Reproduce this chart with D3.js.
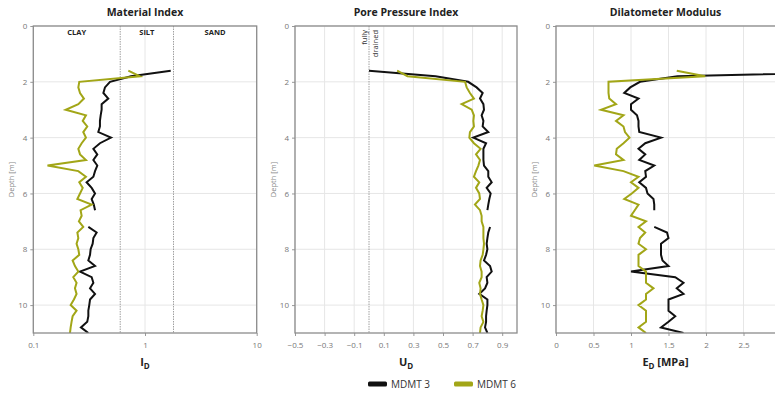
<!DOCTYPE html>
<html>
<head>
<meta charset="utf-8">
<script src="https://cdn.jsdelivr.net/npm/d3@7"></script>
<style>
  body { margin: 0; background: #fff; }
  svg { display: block; font-family: "Open Sans", sans-serif; }
</style>
</head>
<body>
<svg id="chart" width="775" height="394"></svg>
<script>
// depth of each reading [m]
var depth = [1.6, 1.8, 2.0, 2.2, 2.4, 2.6, 2.8, 3.0, 3.2, 3.4, 3.6, 3.8, 4.0, 4.2, 4.4, 4.6, 4.8, 5.0,
  5.2, 5.4, 5.6, 5.8, 6.0, 6.2, 6.4, 6.6, 6.8, 7.0, 7.2, 7.4, 7.6, 7.8, 8.0, 8.2, 8.4, 8.6, 8.8, 9.0,
  9.2, 9.4, 9.6, 9.8, 10.0, 10.2, 10.4, 10.6, 10.8, 11.0];

// material index I_D
var idMdmt3 = [1.70, 0.75, 0.486, 0.438, 0.424, 0.469, 0.409, 0.409, 0.401, 0.395, 0.395, 0.382, 0.496,
  0.395, 0.345, 0.374, 0.345, 0.374, 0.357, 0.345, 0.300, 0.333, 0.357, 0.333, 0.348, 0.357, null, null,
  0.311, 0.369, 0.345, 0.340, 0.326, 0.322, 0.311, 0.357, 0.262, 0.333, 0.345, 0.322, 0.357, 0.322,
  0.317, 0.311, 0.311, 0.304, 0.267, 0.311];
var idMdmt6 = [0.709, 0.90, 0.258, 0.253, 0.262, 0.284, 0.253, 0.195, 0.296, 0.277, 0.304, 0.280, 0.296,
  0.271, 0.253, 0.262, 0.296, 0.134, 0.253, 0.296, 0.258, 0.277, 0.262, 0.248, 0.333, 0.265, 0.271, 0.256,
  0.280, 0.248, 0.253, 0.244, 0.253, 0.258, 0.225, 0.236, 0.253, 0.228, 0.244, 0.236, 0.244, 0.231,
  0.216, 0.244, 0.225, 0.220, 0.216, 0.213];

// pore pressure index U_D
var udMdmt3 = [0.0, 0.45, 0.67, 0.727, 0.768, 0.750, 0.773, 0.777, 0.761, 0.773, 0.768, 0.806, 0.705,
  0.791, 0.773, 0.773, 0.773, 0.777, 0.806, 0.806, 0.829, 0.795, 0.822, 0.813, 0.806, 0.800, null, null,
  0.818, 0.806, 0.800, 0.795, 0.800, 0.791, 0.777, 0.818, 0.829, 0.795, 0.800, 0.784, 0.745, 0.800,
  0.800, 0.795, 0.791, 0.791, 0.784, 0.800];
var udMdmt6 = [0.19, 0.26, 0.649, 0.660, 0.682, 0.709, 0.626, 0.694, 0.709, 0.705, 0.709, 0.682, 0.678,
  0.709, 0.754, 0.723, 0.750, 0.739, 0.723, 0.709, 0.745, 0.723, 0.745, 0.750, 0.716, 0.750, 0.761, 0.761,
  0.773, 0.773, 0.773, 0.777, 0.773, 0.768, 0.754, 0.750, 0.761, 0.761, 0.745, 0.754, 0.750, 0.761,
  0.773, 0.768, 0.761, 0.773, 0.754, 0.750];

// dilatometer modulus E_D [MPa]
var edMdmt3 = [4.9, 1.62, 1.12, 0.99, 0.91, 1.10, 1.00, 1.00, 1.08, 1.10, 1.10, 1.11, 1.40,
  1.19, 1.10, 1.19, 1.11, 1.31, 1.19, 1.20, 1.11, 1.20, 1.22, 1.30, 1.31, 1.31, null, null,
  1.31, 1.48, 1.50, 1.40, 1.40, 1.40, 1.42, 1.50, 1.00, 1.59, 1.70, 1.61, 1.70, 1.50,
  1.50, 1.50, 1.59, 1.50, 1.40, 1.70];
var edMdmt6 = [1.61, 1.99, 0.70, 0.70, 0.70, 0.71, 0.80, 0.60, 0.90, 0.80, 0.90, 0.92, 0.98,
  0.90, 0.81, 0.80, 0.90, 0.51, 0.90, 1.10, 1.00, 1.10, 1.01, 0.91, 1.10, 1.05, 1.00, 1.20,
  1.10, 1.19, 1.12, 1.10, 1.20, 1.10, 1.10, 1.10, 1.20, 1.20, 1.20, 1.30, 1.20, 1.20,
  1.10, 1.20, 1.20, 1.20, 1.10, 1.20];

var seriesNames = ["MDMT 3", "MDMT 6"];
var seriesColors = ["#111111", "#a2a617"];

var depthTicks = [0, 2, 4, 6, 8, 10];
var idTicks = [0.1, 1, 10];
var udTicks = [-0.5, -0.3, -0.1, 0.1, 0.3, 0.5, 0.7, 0.9];
var edTicks = [0, 0.5, 1, 1.5, 2, 2.5];
var soilLimits = [0.6, 1.8];
var soilNames = ["CLAY", "SILT", "SAND"];

var svg = d3.select("#chart");
var plotTop = 26, plotBottom = 333;

var y = d3.scaleLinear().domain([0, 11]).range([plotTop, plotBottom]);

var panels = [
  {title: "Material Index", sym: "I", sub: "D", unit: "",
   x: d3.scaleLog().domain([0.1, 10]).range([33.3, 256.7]),
   ticks: idTicks, fmt: function(d) { return d3.format("~g")(d); },
   data: [idMdmt3, idMdmt6]},
  {title: "Pore Pressure Index", sym: "U", sub: "D", unit: "",
   x: d3.scaleLinear().domain([-0.5, 1.0]).range([295, 517]),
   ticks: udTicks, fmt: function(d) { return d3.format(".1f")(d); },
   data: [udMdmt3, udMdmt6]},
  {title: "Dilatometer Modulus", sym: "E", sub: "D", unit: " [MPa]",
   x: d3.scaleLinear().domain([0, 3]).range([556, 781]),
   ticks: edTicks, fmt: function(d) { return d3.format("~g")(d); },
   data: [edMdmt3, edMdmt6]}
];

panels.forEach(function(p, i) {
  var x = p.x;
  var x0 = x.range()[0], x1 = x.range()[1];
  var g = svg.append("g");

  // grid
  g.selectAll(".hg").data(depthTicks).enter().append("line")
    .attr("x1", x0).attr("x2", x1)
    .attr("y1", function(d) { return y(d); }).attr("y2", function(d) { return y(d); })
    .attr("stroke", "#e6e6e6").attr("stroke-width", 1);
  g.selectAll(".vg").data(p.ticks).enter().append("line")
    .attr("x1", function(d) { return x(d); }).attr("x2", function(d) { return x(d); })
    .attr("y1", plotTop).attr("y2", plotBottom)
    .attr("stroke", "#e6e6e6").attr("stroke-width", 1);

  // left axis
  var ya = g.append("g")
    .attr("transform", "translate(" + x0 + ",0)")
    .call(d3.axisLeft(y).tickValues(depthTicks).tickSize(3).tickPadding(3));
  ya.select(".domain").remove();
  ya.selectAll("line").attr("stroke", "#999");
  ya.selectAll("text").attr("fill", "#777").style("font-size", "8px")
    .style("font-family", "'Open Sans', sans-serif");

  // bottom axis
  var xa = g.append("g")
    .attr("transform", "translate(0," + plotBottom + ")")
    .call(d3.axisBottom(x).tickValues(p.ticks).tickFormat(p.fmt).tickSize(3).tickPadding(6));
  xa.select(".domain").remove();
  xa.selectAll("line").attr("stroke", "#999");
  xa.selectAll("text").attr("fill", "#777").style("font-size", "8px")
    .style("font-family", "'Open Sans', sans-serif");

  // extra annotations
  if (i === 0) {
    g.selectAll(".lim").data(soilLimits).enter().append("line")
      .attr("x1", function(d) { return x(d); }).attr("x2", function(d) { return x(d); })
      .attr("y1", plotTop).attr("y2", plotBottom)
      .attr("stroke", "#888").attr("stroke-width", 0.8).attr("stroke-dasharray", "1.5,1");
    var bounds = [0.1].concat(soilLimits).concat([10]);
    g.selectAll(".soil").data(soilNames).enter().append("text")
      .attr("x", function(d, k) { return (x(bounds[k]) + x(bounds[k + 1])) / 2; })
      .attr("y", 35)
      .attr("text-anchor", "middle")
      .style("font-size", "7.5px").style("font-weight", "bold").attr("fill", "#222")
      .text(function(d) { return d; });
  }
  if (i === 1) {
    g.append("line")
      .attr("x1", x(0)).attr("x2", x(0)).attr("y1", plotTop).attr("y2", plotBottom)
      .attr("stroke", "#888").attr("stroke-width", 0.8).attr("stroke-dasharray", "1.5,1");
    g.selectAll(".fd").data(["fully", "drained"]).enter().append("text")
      .attr("transform", function(d, k) {
        return "translate(" + (x(0) - 2 + k * 10.5) + ",30)rotate(-90)";
      })
      .attr("text-anchor", "end")
      .style("font-size", "7.5px").attr("fill", "#333")
      .text(function(d) { return d; });
  }

  // series
  var clipId = "clip" + i;
  svg.append("clipPath").attr("id", clipId).append("rect")
    .attr("x", x0).attr("y", plotTop).attr("width", x1 - x0).attr("height", plotBottom - plotTop);
  var lg = g.append("g").attr("clip-path", "url(#" + clipId + ")");
  p.data.forEach(function(vals, s) {
    var line = d3.line()
      .defined(function(d, k) { return vals[k] != null; })
      .x(function(d, k) { return x(vals[k]); })
      .y(function(d) { return y(d); });
    lg.append("path")
      .datum(depth)
      .attr("d", line)
      .attr("fill", "none")
      .attr("stroke", seriesColors[s])
      .attr("stroke-width", 2)
      .attr("stroke-linejoin", "miter");
  });

  // frame
  g.append("rect")
    .attr("x", x0).attr("y", plotTop).attr("width", x1 - x0).attr("height", plotBottom - plotTop)
    .attr("fill", "none").attr("stroke", "#8c8c8c").attr("stroke-width", 1.3);

  // titles
  var cx = (x0 + Math.min(x1, 775)) / 2;
  g.append("text")
    .attr("x", cx).attr("y", 16)
    .attr("text-anchor", "middle")
    .style("font-size", "10.5px").style("font-weight", "bold").attr("fill", "#222")
    .text(p.title);

  var at = g.append("text")
    .attr("x", cx).attr("y", 366)
    .attr("text-anchor", "middle")
    .style("font-size", "11px").style("font-weight", "bold").attr("fill", "#222");
  at.append("tspan").text(p.sym);
  at.append("tspan").attr("dy", 2.5).style("font-size", "8px").text(p.sub);
  at.append("tspan").attr("dy", -2.5).text(p.unit);

  g.append("text")
    .attr("transform", "translate(" + (x0 - 19) + "," + ((plotTop + plotBottom) / 2) + ")rotate(-90)")
    .attr("text-anchor", "middle")
    .style("font-size", "7.5px").attr("fill", "#888")
    .text("Depth [m]");
});

// legend
var legendX = [368, 454];
var leg = svg.append("g").selectAll("g").data(seriesNames).enter().append("g")
  .attr("transform", function(d, k) { return "translate(" + legendX[k] + ",384)"; });
leg.append("rect")
  .attr("x", 0).attr("y", -2.5).attr("width", 19).attr("height", 5).attr("rx", 1.5)
  .attr("fill", function(d, k) { return seriesColors[k]; });
leg.append("text")
  .attr("x", 23).attr("y", 3.5)
  .style("font-size", "10px").attr("fill", "#333")
  .text(function(d) { return d; });
</script>
</body>
</html>
